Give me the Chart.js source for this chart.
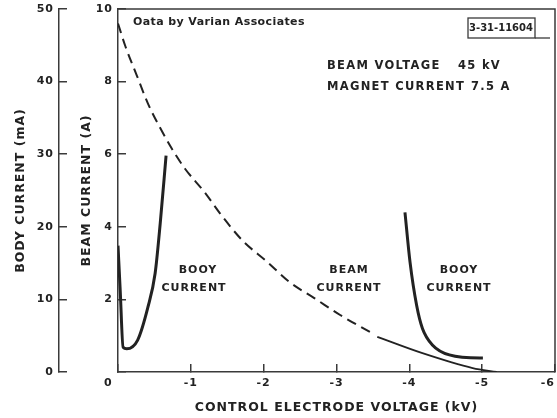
<!DOCTYPE html>
<html>
<head>
<meta charset="utf-8">
<script src="https://cdn.jsdelivr.net/npm/chart.js@4"></script>
<style>
html,body{margin:0;padding:0;background:#fff;}
#wrap{width:557px;height:418px;}
</style>
</head>
<body>
<div id="wrap"><canvas id="chart"></canvas></div>
<script>
// values (voltage in kV, beam in A, body in mA)
const beamVolts = [0,-0.1,-0.26,-0.41,-0.58,-0.74,-0.92,-1.19,-1.4,-1.71,-2.04,-2.36,-2.7,-3.05,-3.46];
const beamAmps = [9.6,8.98,8.16,7.4,6.72,6.15,5.6,4.95,4.37,3.62,3.05,2.47,2.03,1.57,1.1];
const beamTailVolts = [-3.56,-4.18,-4.87,-5.2];
const beamTailAmps = [0.97,0.52,0.11,0];
const bodyLowVolts = [0,-0.03,-0.07,-0.12,-0.27,-0.41,-0.51,-0.58,-0.66];
const bodyLowMa = [17.4,11.3,3.4,3.2,4.4,8.9,13.6,20.5,29.8];
const bodyHighVolts = [-3.94,-4.01,-4.1,-4.18,-4.32,-4.55,-4.97,-5.01];
const bodyHighMa = [22,15.1,9.2,6,3.7,2.35,1.92,1.92];
const voltTicks = [0,-1,-2,-3,-4,-5,-6];
const beamTicks = [0,2,4,6,8,10];
const bodyTicks = [0,10,20,30,40,50];

const ink = "#222";
const axisInk = "#3a3a3a";
const fam = "'DejaVu Sans', sans-serif";

function pts(xs,ys){
return xs.map((x,i)=>({x:x,y:ys[i]}));
}
function setTicks(list){
return function(scale){ scale.ticks = list.map(v=>({value:v})); };
}
// the end labels sit off-centre in the original, pad them so they do too
function voltLabel(v){
if(v===0) return "0    ";
if(v===-6) return "-6   ";
return String(v);
}

const spacing = {
id:"spacing",
beforeDraw(chart){ chart.ctx.letterSpacing = "1px"; }
};

const frame = {
id:"frame",
afterDraw(chart){
const a = chart.chartArea;
const ctx = chart.ctx;
ctx.save();
ctx.strokeStyle = axisInk;
ctx.lineWidth = 1.5;
ctx.beginPath();
ctx.moveTo(a.left,a.top);
ctx.lineTo(a.right,a.top);
ctx.lineTo(a.right,a.bottom);
ctx.stroke();

// drawing number box, top right
ctx.lineWidth = 1.3;
ctx.strokeRect(468,18,67,20);
ctx.beginPath();
ctx.moveTo(535,38);
ctx.lineTo(550,38);
ctx.stroke();

ctx.fillStyle = ink;
ctx.letterSpacing = "0px";
ctx.font = "bold 10px " + fam;
ctx.textAlign = "center";
ctx.textBaseline = "middle";
ctx.fillText("3-31-11604",501,28);

ctx.letterSpacing = "0.4px";
ctx.font = "bold 11px " + fam;
ctx.textAlign = "left";
ctx.fillText("Oata by Varian Associates",133,22);

ctx.letterSpacing = "1.3px";
ctx.font = "bold 11.5px " + fam;
ctx.fillText("BEAM VOLTAGE",327,66);
ctx.fillText("45 kV",458,66);
ctx.fillText("MAGNET CURRENT",327,87);
ctx.fillText("7.5 A",471,87);

ctx.letterSpacing = "1px";
ctx.font = "bold 11px " + fam;
ctx.textAlign = "center";
ctx.fillText("BOOY",198,270);
ctx.fillText("CURRENT",194,288);
ctx.fillText("BEAM",349,270);
ctx.fillText("CURRENT",349,288);
ctx.fillText("BOOY",459,270);
ctx.fillText("CURRENT",459,288);
ctx.restore();
}
};

const tickFont = {family:fam, size:11, weight:"bold"};
const titleFont = {family:fam, size:12.5, weight:"bold"};

function yFit(s){
s.width = 59;
s.paddingTop = 0;
s.paddingBottom = 0;
}

new Chart(document.getElementById("chart"),{
type:"line",
data:{
datasets:[{
label:"Beam current",
data:pts(beamVolts,beamAmps),
yAxisID:"beam",
borderColor:ink,
borderWidth:2,
borderDash:[10,6],
pointRadius:0,
cubicInterpolationMode:"monotone",
fill:false
},{
label:"Beam current tail",
data:pts(beamTailVolts,beamTailAmps),
yAxisID:"beam",
borderColor:ink,
borderWidth:1.8,
pointRadius:0,
cubicInterpolationMode:"monotone",
fill:false
},{
label:"Body current low",
data:pts(bodyLowVolts,bodyLowMa),
yAxisID:"body",
borderColor:ink,
borderWidth:3,
pointRadius:0,
cubicInterpolationMode:"monotone",
fill:false
},{
label:"Body current high",
data:pts(bodyHighVolts,bodyHighMa),
yAxisID:"body",
borderColor:ink,
borderWidth:3,
pointRadius:0,
cubicInterpolationMode:"monotone",
fill:false
}]
},
options:{
responsive:true,
maintainAspectRatio:false,
animation:false,
layout:{padding:{top:9,right:2,left:0,bottom:0}},
plugins:{legend:{display:false},tooltip:{enabled:false}},
scales:{
x:{
type:"linear",
min:-6,max:0,reverse:true,
afterBuildTicks:setTicks(voltTicks),
afterFit(s){ s.height = 46; s.paddingLeft = 0; s.paddingRight = 0; },
grid:{drawOnChartArea:false,tickLength:-8,color:axisInk,lineWidth:1.5},
border:{color:axisInk,width:1.5},
ticks:{padding:13,font:tickFont,color:ink,maxRotation:0,callback:voltLabel},
title:{display:true,text:"CONTROL ELECTRODE VOLTAGE (kV)",font:titleFont,color:ink,padding:{top:0,bottom:3}}
},
beam:{
type:"linear",position:"left",weight:0,
min:0,max:10,
afterBuildTicks:setTicks(beamTicks),
afterFit:yFit,
grid:{drawOnChartArea:false,tickLength:-8,color:axisInk,lineWidth:1.5},
border:{color:axisInk,width:1.5},
ticks:{padding:13,font:tickFont,color:ink,callback:v=>v===0?"":String(v)},
title:{display:true,text:"BEAM CURRENT (A)",font:titleFont,color:ink,padding:{top:20,bottom:0}}
},
body:{
type:"linear",position:"left",weight:1,
min:0,max:50,
afterBuildTicks:setTicks(bodyTicks),
afterFit:yFit,
grid:{drawOnChartArea:false,tickLength:-8,color:axisInk,lineWidth:1.5},
border:{color:axisInk,width:1.5},
ticks:{padding:13,font:tickFont,color:ink,callback:v=>String(v)},
title:{display:true,text:"BODY CURRENT (mA)",font:titleFont,color:ink,padding:{top:13,bottom:0}}
}
}
},
plugins:[spacing,frame]
});
</script>
</body>
</html>
